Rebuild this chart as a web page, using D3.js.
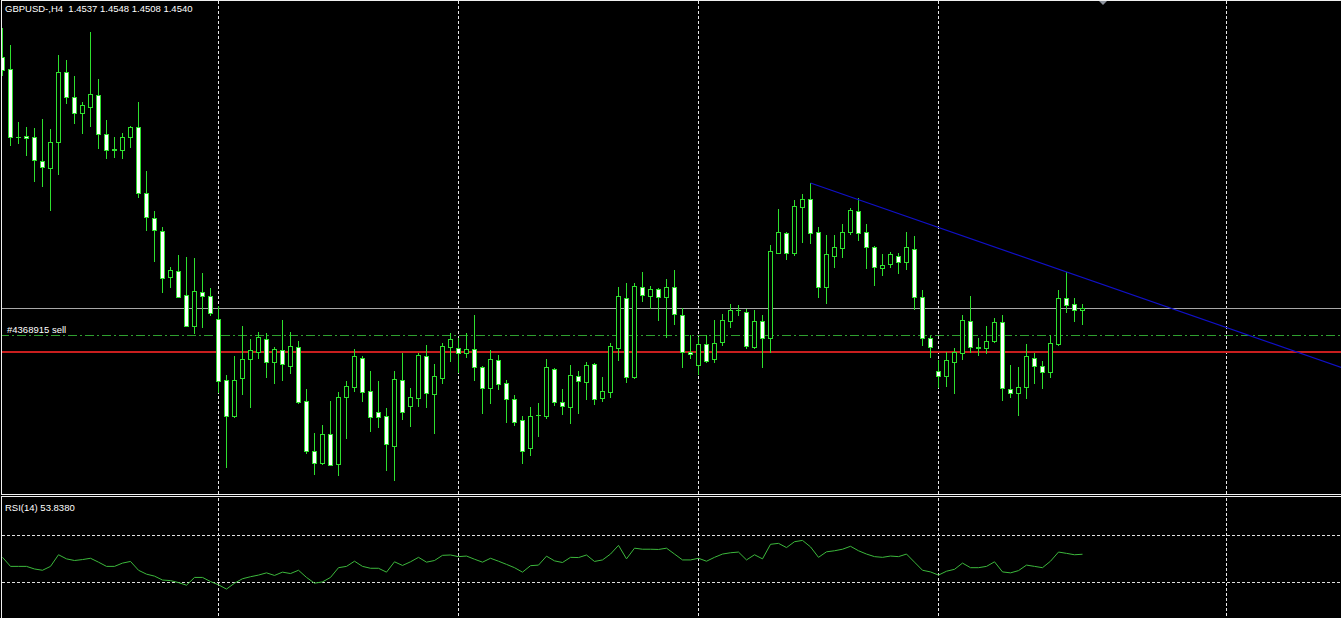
<!DOCTYPE html>
<html><head><meta charset="utf-8">
<script src="https://cdn.jsdelivr.net/npm/d3@7"></script>
<style>html,body{margin:0;padding:0;background:#000;overflow:hidden} svg{display:block}</style>
</head><body>
<svg id="c" width="1341" height="618"></svg>
<script>
// ---------- DATA ----------
const symbolLabel = "GBPUSD-,H4";
const lastQuote = ["1.4537", "1.4548", "1.4508", "1.4540"];

const openP = [1.5042,1.5018,1.4882,1.4884,1.4882,1.4834,1.4820,1.4872,1.5012,1.4962,
1.4930,1.4942,1.4966,1.4888,1.4858,1.4856,1.4882,1.4902,1.4770,1.4720,
1.4694,1.4602,1.4614,1.4566,1.4504,1.4572,1.4564,1.4518,1.4396,1.4324,
1.4400,1.4438,1.4452,1.4478,1.4432,1.4456,1.4424,1.4462,1.4354,1.4254,
1.4230,1.4288,1.4228,1.4362,1.4382,1.4440,1.4374,1.4332,1.4324,1.4264,
1.4396,1.4344,1.4360,1.4444,1.4368,1.4400,1.4462,1.4460,1.4450,1.4458,
1.4422,1.4380,1.4436,1.4390,1.4358,1.4316,1.4260,1.4326,1.4324,1.4418,
1.4352,1.4342,1.4404,1.4392,1.4428,1.4360,1.4372,1.4460,1.4560,1.4402,
1.4582,1.4564,1.4578,1.4562,1.4582,1.4526,1.4452,1.4426,1.4468,1.4438,
1.4472,1.4514,1.4536,1.4532,1.4462,1.4514,1.4480,1.4650,1.4690,1.4650,
1.4742,1.4758,1.4692,1.4582,1.4644,1.4660,1.4692,1.4734,1.4692,1.4662,
1.4620,1.4628,1.4644,1.4632,1.4658,1.4562,1.4480,1.4414,1.4404,1.4432,
1.4450,1.4514,1.4462,1.4460,1.4474,1.4512,1.4378,1.4370,1.4382,1.4440,
1.4424,1.4412,1.4468,1.4560,1.4548,1.4537];

const highP = [1.5100,1.5066,1.4912,1.4902,1.4900,1.4918,1.4898,1.5046,1.5036,1.5004,
1.4952,1.5092,1.4998,1.4916,1.4882,1.4890,1.4904,1.4952,1.4814,1.4734,
1.4702,1.4622,1.4646,1.4642,1.4640,1.4610,1.4580,1.4544,1.4406,1.4444,
1.4504,1.4478,1.4492,1.4490,1.4462,1.4516,1.4492,1.4474,1.4378,1.4290,
1.4306,1.4354,1.4372,1.4394,1.4458,1.4444,1.4414,1.4394,1.4340,1.4414,
1.4450,1.4380,1.4450,1.4466,1.4428,1.4470,1.4490,1.4480,1.4490,1.4526,
1.4424,1.4456,1.4446,1.4396,1.4366,1.4324,1.4342,1.4350,1.4438,1.4420,
1.4378,1.4426,1.4414,1.4432,1.4430,1.4402,1.4470,1.4582,1.4590,1.4590,
1.4612,1.4584,1.4580,1.4598,1.4616,1.4540,1.4486,1.4482,1.4486,1.4516,
1.4528,1.4548,1.4546,1.4538,1.4536,1.4526,1.4666,1.4738,1.4692,1.4756,
1.4768,1.4790,1.4702,1.4686,1.4686,1.4708,1.4740,1.4760,1.4708,1.4664,
1.4648,1.4652,1.4650,1.4692,1.4684,1.4576,1.4484,1.4436,1.4452,1.4460,
1.4526,1.4564,1.4480,1.4504,1.4520,1.4526,1.4426,1.4422,1.4468,1.4450,
1.4434,1.4486,1.4576,1.4612,1.4560,1.4548];

const lowP = [1.5006,1.4866,1.4870,1.4846,1.4794,1.4784,1.4736,1.4808,1.4950,1.4910,
1.4890,1.4904,1.4860,1.4840,1.4842,1.4840,1.4862,1.4762,1.4696,1.4634,
1.4572,1.4582,1.4562,1.4504,1.4490,1.4502,1.4526,1.4372,1.4222,1.4322,
1.4368,1.4342,1.4440,1.4402,1.4390,1.4396,1.4410,1.4350,1.4250,1.4208,
1.4228,1.4226,1.4206,1.4280,1.4374,1.4354,1.4294,1.4302,1.4216,1.4196,
1.4318,1.4304,1.4344,1.4342,1.4290,1.4390,1.4434,1.4412,1.4442,1.4396,
1.4330,1.4350,1.4378,1.4312,1.4306,1.4230,1.4246,1.4284,1.4320,1.4346,
1.4328,1.4310,1.4330,1.4358,1.4348,1.4354,1.4362,1.4436,1.4392,1.4400,
1.4554,1.4540,1.4516,1.4482,1.4508,1.4422,1.4440,1.4408,1.4432,1.4432,
1.4466,1.4502,1.4526,1.4460,1.4460,1.4422,1.4452,1.4650,1.4638,1.4646,
1.4672,1.4670,1.4562,1.4550,1.4622,1.4642,1.4688,1.4676,1.4620,1.4586,
1.4606,1.4622,1.4610,1.4618,1.4538,1.4466,1.4442,1.4382,1.4384,1.4370,
1.4438,1.4452,1.4446,1.4450,1.4472,1.4356,1.4362,1.4326,1.4360,1.4390,
1.4380,1.4402,1.4466,1.4532,1.4514,1.4508];

const closeP = [1.5016,1.4882,1.4882,1.4880,1.4836,1.4822,1.4872,1.5012,1.4962,1.4930,
1.4946,1.4968,1.4888,1.4856,1.4856,1.4882,1.4902,1.4770,1.4722,1.4696,
1.4600,1.4616,1.4562,1.4504,1.4574,1.4564,1.4530,1.4394,1.4324,1.4396,
1.4438,1.4456,1.4482,1.4432,1.4458,1.4428,1.4464,1.4352,1.4254,1.4230,
1.4288,1.4226,1.4362,1.4384,1.4444,1.4372,1.4322,1.4322,1.4268,1.4398,
1.4332,1.4362,1.4446,1.4370,1.4404,1.4464,1.4478,1.4450,1.4458,1.4422,
1.4380,1.4438,1.4388,1.4358,1.4312,1.4254,1.4324,1.4326,1.4422,1.4352,
1.4344,1.4406,1.4394,1.4426,1.4358,1.4374,1.4464,1.4564,1.4402,1.4584,
1.4566,1.4578,1.4562,1.4582,1.4528,1.4452,1.4448,1.4468,1.4434,1.4470,
1.4516,1.4536,1.4536,1.4464,1.4514,1.4480,1.4654,1.4692,1.4650,1.4744,
1.4758,1.4690,1.4582,1.4648,1.4662,1.4692,1.4736,1.4690,1.4662,1.4622,
1.4626,1.4648,1.4632,1.4662,1.4562,1.4480,1.4462,1.4404,1.4436,1.4452,
1.4516,1.4462,1.4460,1.4474,1.4512,1.4380,1.4370,1.4382,1.4444,1.4424,
1.4412,1.4470,1.4560,1.4546,1.4536,1.4540];

const rsiValues = [51.2,43.5,43.5,43.5,41.3,40.2,43.5,53.4,49.9,48.5,
49.3,50.4,47.1,43.5,43.5,46.3,47.7,40.2,36.9,35.2,
31.9,31.4,29.7,27.5,34.1,34.1,30.6,27.8,24.2,29.2,
33.0,34.7,36.1,38.0,35.8,38.6,37.4,40.2,34.1,29.2,
30.3,34.1,42.4,43.5,47.9,43.5,41.9,41.9,38.6,47.4,
44.3,47.4,51.2,47.1,48.5,52.9,53.2,51.8,52.3,49.6,
47.1,50.4,47.9,45.2,42.4,38.6,44.1,44.6,52.2,48.2,
46.8,51.2,51.0,53.2,47.7,49.0,54.0,61.4,49.9,59.0,
58.1,58.1,57.9,59.0,54.0,49.0,49.0,50.4,47.9,51.2,
54.0,55.1,55.7,49.0,53.4,49.9,62.3,63.1,59.5,64.5,
65.6,60.1,51.2,55.9,56.8,58.1,60.6,56.8,54.0,51.8,
51.2,52.3,51.8,54.0,47.1,40.2,38.8,36.1,39.4,41.0,
46.3,42.4,42.4,43.5,47.4,38.8,38.0,39.9,44.6,43.5,
42.4,47.9,55.7,54.6,53.4,53.838];
const rsiLabel = "RSI(14) 53.8380";
const rsiLevels = [70, 30];

const gridBars = [27, 57, 87, 117, 153];
const bidPrice = 1.4540;
const orderPrice = 1.4486;
const orderLabel = "#4368915 sell";
const tpPrice = 1.4454;
const trendBars = [101, 160];
const trendPrices = [1.4790, 1.4462];
const shiftBar = 137.5;

// ---------- LAYOUT ----------
const W = 1341, H = 618;
const mainBottom = 494;
const rsiTop = 497, rsiBottom = 618;
const GREEN = "#2ee02e";

const svg = d3.select("#c");
svg.append("rect").attr("width", W).attr("height", H).attr("fill", "#000");

const x = d3.scaleLinear().domain([0, 1]).range([2.5, 10.5]);
const y = d3.scaleLinear().domain([1.4168, 1.5156]).range([mainBottom, 0]);
const ry = d3.scaleLinear().domain([0, 100]).range([617.5, 500]);
const py = v => Math.round(y(v));

svg.append("clipPath").attr("id", "mc").append("rect")
  .attr("x", 2).attr("y", 1).attr("width", W - 2).attr("height", mainBottom - 1);
svg.append("clipPath").attr("id", "rc").append("rect")
  .attr("x", 2).attr("y", rsiTop + 1).attr("width", W - 2).attr("height", rsiBottom - rsiTop - 1);

// vertical grid
const grid = svg.append("g").attr("stroke", "#e8e8e8").attr("stroke-width", 1).attr("stroke-dasharray", "3,2");
gridBars.forEach(b => {
  const gx = Math.round(x(b) - 0.5) + 0.5;
  grid.append("line").attr("x1", gx).attr("x2", gx).attr("y1", 1).attr("y2", mainBottom);
  grid.append("line").attr("x1", gx).attr("x2", gx).attr("y1", rsiTop + 1).attr("y2", rsiBottom);
});

// horizontal price lines
const main = svg.append("g").attr("clip-path", "url(#mc)");
main.append("line").attr("x1", 0).attr("x2", W).attr("y1", py(bidPrice) + 0.5).attr("y2", py(bidPrice) + 0.5)
  .attr("stroke", "#a8a8a8");
main.append("line").attr("x1", 0).attr("x2", W).attr("y1", py(orderPrice) + 0.5).attr("y2", py(orderPrice) + 0.5)
  .attr("stroke", "#2f9f2f").attr("stroke-dasharray", "9,3,2,3");
main.append("line").attr("x1", 0).attr("x2", W).attr("y1", py(tpPrice) + 1).attr("y2", py(tpPrice) + 1)
  .attr("stroke", "#c81e1e").attr("stroke-width", 2);

// candles
const idx = d3.range(openP.length);
const cg = main.append("g");
idx.forEach(i => {
  const cx = x(i);
  const o = openP[i], c = closeP[i], h = highP[i], l = lowP[i];
  cg.append("line").attr("x1", cx).attr("x2", cx)
    .attr("y1", py(h)).attr("y2", py(l) + 1)
    .attr("stroke", GREEN).attr("stroke-width", 1);
  const top = py(Math.max(o, c)), bot = py(Math.min(o, c));
  if (bot - top < 1) {
    cg.append("line").attr("x1", cx - 2.5).attr("x2", cx + 2.5)
      .attr("y1", top + 0.5).attr("y2", top + 0.5).attr("stroke", GREEN);
  } else {
    cg.append("rect").attr("x", cx - 2).attr("y", top + 0.5)
      .attr("width", 4).attr("height", bot - top)
      .attr("fill", c < o ? "#ffffff" : "#000000")
      .attr("stroke", GREEN).attr("stroke-width", 1);
  }
});

// trend line
const slope = (trendPrices[1] - trendPrices[0]) / (trendBars[1] - trendBars[0]);
const endBar = x.invert(W + 2);
main.append("line")
  .attr("x1", x(trendBars[0])).attr("y1", y(trendPrices[0]))
  .attr("x2", x(endBar)).attr("y2", y(trendPrices[0] + slope * (endBar - trendBars[0])))
  .attr("stroke", "#1010c8").attr("stroke-width", 1.2);

// order label
svg.append("text").attr("x", 7).attr("y", py(orderPrice) - 2)
  .attr("fill", "#ffffff").attr("font-family", "Liberation Sans, Arial, sans-serif")
  .attr("font-size", "9.5px").text(orderLabel);

// header text
svg.append("text").attr("x", 5).attr("y", 11.5)
  .attr("fill", "#ffffff").attr("font-family", "Liberation Sans, Arial, sans-serif")
  .attr("font-size", "9.5px").style("white-space", "pre")
  .text(symbolLabel + "  " + lastQuote.join(" "));

// shift marker
const sx = Math.round(x(shiftBar));
svg.append("path").attr("d", `M${sx - 5},0 L${sx + 5},0 L${sx},5 Z`).attr("fill", "#8c929c");

// frames
const frame = svg.append("g").attr("stroke", "#f0f0f0").attr("fill", "none");
frame.append("line").attr("x1", 1.5).attr("x2", 1.5).attr("y1", 0).attr("y2", mainBottom + 1);
frame.append("line").attr("x1", 1).attr("x2", W).attr("y1", 0.5).attr("y2", 0.5);
frame.append("line").attr("x1", 1).attr("x2", W).attr("y1", mainBottom + 0.5).attr("y2", mainBottom + 0.5);
frame.append("line").attr("x1", 1).attr("x2", W).attr("y1", rsiTop - 0.5).attr("y2", rsiTop - 0.5);
frame.append("line").attr("x1", 1.5).attr("x2", 1.5).attr("y1", rsiTop - 1).attr("y2", H);

// RSI panel
const rg = svg.append("g").attr("clip-path", "url(#rc)");
rsiLevels.forEach(v => {
  const ly = Math.round(ry(v)) + 0.5;
  rg.append("line").attr("x1", 2).attr("x2", W).attr("y1", ly).attr("y2", ly)
    .attr("stroke", "#e0e0e0").attr("stroke-dasharray", "3,2");
});
const rsiLine = d3.line().x((d, i) => x(i)).y(d => ry(d));
rg.append("path").datum(rsiValues).attr("d", rsiLine)
  .attr("fill", "none").attr("stroke", "#3cb83c").attr("stroke-width", 1);
svg.append("text").attr("x", 5).attr("y", 511)
  .attr("fill", "#ffffff").attr("font-family", "Liberation Sans, Arial, sans-serif")
  .attr("font-size", "9.5px").text(rsiLabel);
</script>
</body></html>
